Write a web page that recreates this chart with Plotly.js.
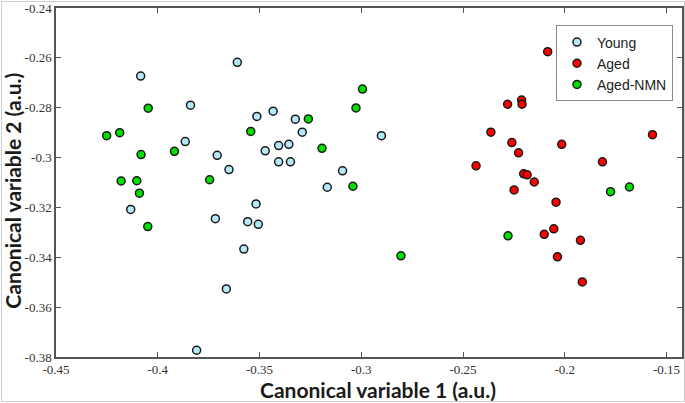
<!DOCTYPE html>
<html>
<head>
<meta charset="utf-8">
<script src="https://cdn.plot.ly/plotly-3.0.1.min.js"></script>
<style>
  html, body { margin: 0; padding: 0; background: #fff; }
  #wrap { position: relative; width: 685px; height: 403px; }
  #chart { width: 685px; height: 403px; }
  #border { position: absolute; left: 1px; top: 1px; width: 682px; height: 399px; border: 1px solid #cfcfcf; pointer-events: none; }
</style>
</head>
<body>
<div id="wrap"><div id="chart"></div><div id="border"></div></div>
<script>
// Young
const youngX = [-0.3609, -0.4084, -0.3839, -0.3433, -0.3513, -0.3324, -0.3290, -0.2901, -0.3865, -0.3356, -0.3406, -0.3472, -0.3708, -0.3406, -0.3348, -0.3650, -0.3092, -0.3167, -0.3517, -0.4133, -0.3717, -0.3558, -0.3506, -0.3577, -0.3663, -0.3809];
const youngY = [-0.2618, -0.2673, -0.2790, -0.2814, -0.2835, -0.2846, -0.2898, -0.2912, -0.2936, -0.2947, -0.2952, -0.2973, -0.2991, -0.3017, -0.3017, -0.3048, -0.3053, -0.3119, -0.3186, -0.3208, -0.3245, -0.3257, -0.3268, -0.3367, -0.3527, -0.3773];
// Aged
const agedX = [-0.2084, -0.2212, -0.2210, -0.2281, -0.2363, -0.1569, -0.2260, -0.2015, -0.2227, -0.1815, -0.2436, -0.2202, -0.2185, -0.2150, -0.2249, -0.2043, -0.2054, -0.2101, -0.1923, -0.2036, -0.1914];
const agedY = [-0.2575, -0.2769, -0.2786, -0.2786, -0.2898, -0.2908, -0.2940, -0.2947, -0.2981, -0.3017, -0.3033, -0.3065, -0.3069, -0.3098, -0.3130, -0.3179, -0.3286, -0.3308, -0.3332, -0.3398, -0.3499];
// Aged-NMN
const nmnX = [-0.2994, -0.3026, -0.4047, -0.3260, -0.3543, -0.4187, -0.4251, -0.3193, -0.3918, -0.4082, -0.3745, -0.4180, -0.4103, -0.3041, -0.4090, -0.4049, -0.2805, -0.2279, -0.1775, -0.1682];
const nmnY = [-0.2725, -0.2801, -0.2802, -0.2845, -0.2895, -0.2900, -0.2912, -0.2963, -0.2975, -0.2988, -0.3089, -0.3094, -0.3093, -0.3115, -0.3143, -0.3277, -0.3394, -0.3314, -0.3137, -0.3118];

const xTickVals = [-0.45, -0.4, -0.35, -0.3, -0.25, -0.2, -0.15];
const xTickText = ["-0.45", "-0.4", "-0.35", "-0.3", "-0.25", "-0.2", "-0.15"];
const yTickVals = [-0.38, -0.36, -0.34, -0.32, -0.3, -0.28, -0.26, -0.24];
const yTickText = ["-0.38", "-0.36", "-0.34", "-0.32", "-0.3", "-0.28", "-0.26", "-0.24"];

const xTitle = 'Canonical variable 1 (a.u.)';
const yTitle = 'Canonical variable 2 (a.u.)';

function trace(name, x, y, color) {
  return {
    type: 'scatter', mode: 'markers', name: name, x: x, y: y,
    marker: { size: 8, color: color, line: { color: '#1a1a1a', width: 1.5 } },
    hoverinfo: 'x+y+name'
  };
}

const data = [
  trace('Young', youngX, youngY, '#b4e9f9'),
  trace('Aged', agedX, agedY, '#ff0000'),
  trace('Aged-NMN', nmnX, nmnY, '#00e000')
];

const axisCommon = {
  showgrid: false, zeroline: false, showline: true, mirror: 'ticks',
  linecolor: '#555', linewidth: 1.5, ticks: 'inside', ticklen: 5,
  tickcolor: '#555', tickwidth: 1.2,
  tickfont: { family: 'Liberation Serif, Times New Roman, Times, serif', size: 13, color: '#333' },
  tickmode: 'array', ticklabeloverflow: 'allow'
};

const titleFont = { family: 'Lato, sans-serif', size: 21, color: '#1a1a1a', weight: 'bold' };

const layout = {
  width: 685, height: 403,
  margin: { l: 56, r: 3, t: 8, b: 46, pad: 0 },
  paper_bgcolor: '#fff', plot_bgcolor: '#fff',
  showlegend: true,
  xaxis: Object.assign({}, axisCommon, {
    range: [-0.45, -0.1424], tickvals: xTickVals, ticktext: xTickText
  }),
  yaxis: Object.assign({}, axisCommon, {
    range: [-0.38001, -0.23999], tickvals: yTickVals, ticktext: yTickText
  }),
  annotations: [
    { text: '<b>' + xTitle + '</b>', xref: 'paper', yref: 'paper', x: 0.5144, y: -0.0945,
      xanchor: 'center', yanchor: 'middle', showarrow: false, font: titleFont },
    { text: '<b>' + yTitle + '</b>', xref: 'paper', yref: 'paper', x: -0.0695, y: 0.478,
      xanchor: 'center', yanchor: 'middle', showarrow: false, textangle: -90, font: titleFont }
  ],
  legend: {
    x: 0.7987, y: 0.95, xanchor: 'left', yanchor: 'top',
    bgcolor: '#fff', bordercolor: '#8a8a8a', borderwidth: 1,
    font: { family: 'Liberation Sans, Arial, sans-serif', size: 14, color: '#222' },
    itemwidth: 30
  }
};

Plotly.newPlot('chart', data, layout, { displayModeBar: false });
</script>
</body>
</html>
